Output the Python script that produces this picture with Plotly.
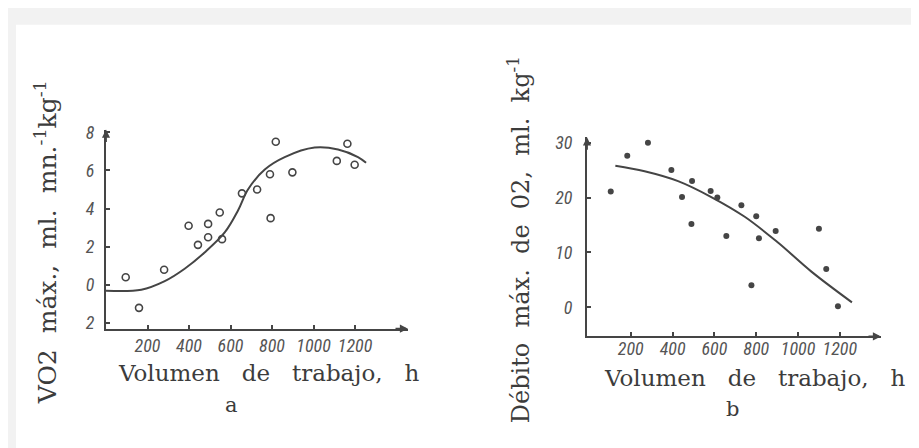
import plotly.graph_objects as go

W, H = 919, 448

# ---- Data: chart a (VO2 max vs training volume) ----
a_x = [95, 159, 280, 398, 443, 492, 492, 548, 559, 655, 728, 790, 818, 793, 898, 1112, 1163, 1198]
a_y = [0.4, -1.2, 0.8, 3.1, 2.1, 3.2, 2.5, 3.8, 2.4, 4.8, 5.0, 5.8, 7.5, 3.5, 5.9, 6.5, 7.4, 6.3]
a_curve_x = [0, 170, 283, 379, 475, 572, 636, 684, 765, 861, 1005, 1118, 1214, 1253]
a_curve_y = [-0.3, -0.25, 0.2, 0.85, 1.7, 2.75, 3.9, 5.0, 6.05, 6.7, 7.2, 7.1, 6.7, 6.4]

# ---- Data: chart b (max O2 debt vs training volume) ----
b_x = [104, 183, 282, 394, 493, 445, 490, 582, 614, 657, 729, 800, 813, 893, 777, 1100, 1135, 1191]
b_y = [21.1, 27.6, 30.0, 25.0, 23.0, 20.1, 15.2, 21.2, 20.0, 13.0, 18.6, 16.6, 12.6, 13.9, 4.0, 14.3, 7.0, 0.2]
b_curve_x = [126, 266, 426, 585, 745, 904, 1064, 1258]
b_curve_y = [25.8, 24.8, 23.0, 20.1, 16.5, 11.8, 6.5, 0.9]

x_ticks = [200, 400, 600, 800, 1000, 1200]
x_ticktext = ["200", "400", "600", "800", "1000", "1200"]
a_yticks = [-2, 0, 2, 4, 6, 8]
a_yticktext = ["2", "0", "2", "4", "6", "8"]
b_yticks = [0, 10, 20, 30]
b_yticktext = ["0", "10", "20", "30"]

INK = "#454545"
TXT = "#3c3c3c"
TICKFONT = dict(family="Liberation Sans Narrow, Roboto Condensed, Liberation Sans, sans-serif",
                size=18, color="#555555", style="italic")
SERIF = "DejaVu Serif, Liberation Serif, serif"
NB = "\u00a0"


def px_x(p):
    return p / W


def px_y(p):
    return (H - p) / H


fig = go.Figure()

# chart a
fig.add_trace(go.Scatter(x=a_curve_x, y=a_curve_y, mode="lines", line=dict(color=INK, width=2, shape="spline"),
                         xaxis="x", yaxis="y", showlegend=False, hoverinfo="skip"))
fig.add_trace(go.Scatter(x=a_x, y=a_y, mode="markers",
                         marker=dict(symbol="circle-open", size=7, color=INK, line=dict(width=1.6, color=INK)),
                         xaxis="x", yaxis="y", showlegend=False))
# chart b
fig.add_trace(go.Scatter(x=b_curve_x, y=b_curve_y, mode="lines", line=dict(color=INK, width=2, shape="spline"),
                         xaxis="x2", yaxis="y2", showlegend=False, hoverinfo="skip"))
fig.add_trace(go.Scatter(x=b_x, y=b_y, mode="markers",
                         marker=dict(symbol="circle", size=6, color=INK),
                         xaxis="x2", yaxis="y2", showlegend=False))

axis_common = dict(showgrid=False, zeroline=False, showline=True, linecolor=INK, linewidth=2,
                   ticks="inside", ticklen=4, tickwidth=1.5, tickcolor=INK, tickfont=TICKFONT,
                   tickangle=0)

fig.update_layout(
    width=W, height=H,
    margin=dict(l=0, r=0, t=0, b=0),
    paper_bgcolor="#f2f2f2",
    plot_bgcolor="rgba(0,0,0,0)",
    showlegend=False,
    xaxis=dict(domain=[px_x(98), px_x(400)], range=[0, 1455], anchor="y",
               tickvals=x_ticks, ticktext=x_ticktext, ticklabelstandoff=0, **axis_common),
    yaxis=dict(domain=[px_y(322), px_y(117)], range=[-2.29, 8.14], anchor="x",
               tickvals=a_yticks, ticktext=a_yticktext, ticklabelstandoff=6, **axis_common),
    xaxis2=dict(domain=[px_x(579), px_x(873)], range=[-9.6, 1397], anchor="y2",
                tickvals=x_ticks, ticktext=x_ticktext, ticklabelstandoff=-5, **axis_common),
    yaxis2=dict(domain=[px_y(330), px_y(125)], range=[-5.31, 30.97], anchor="x2",
                tickvals=b_yticks, ticktext=b_yticktext, ticklabelstandoff=9, **axis_common),
    shapes=[dict(type="rect", xref="paper", yref="paper", x0=px_x(8), x1=1, y0=0, y1=px_y(9),
                 fillcolor="white", line=dict(width=0), layer="below")],
)

annos = []
# arrowheads at axis ends
for (tx, ty, ax, ay) in [(400, 322, -14, 0), (98, 117, 0, 14), (873, 330, -14, 0), (579, 125, 0, 14)]:
    annos.append(dict(x=px_x(tx), y=px_y(ty), xref="paper", yref="paper", text="", showarrow=True,
                      ax=ax, ay=ay, arrowhead=2, arrowsize=0.9, arrowwidth=1.8, arrowcolor=INK))

gap = NB * 3
xtitle = "Volumen" + gap + "de" + gap + "trabajo," + gap + "h"
annos.append(dict(x=px_x(261), y=px_y(368), xref="paper", yref="paper", text=xtitle, showarrow=False,
                  font=dict(family=SERIF, size=23, color=TXT), xanchor="center", yanchor="middle"))
annos.append(dict(x=px_x(747), y=px_y(373), xref="paper", yref="paper", text=xtitle, showarrow=False,
                  font=dict(family=SERIF, size=23, color=TXT), xanchor="center", yanchor="middle"))
annos.append(dict(x=px_x(223), y=px_y(401), xref="paper", yref="paper", text="a", showarrow=False,
                  font=dict(family=SERIF, size=21, color=TXT), xanchor="center", yanchor="middle"))
annos.append(dict(x=px_x(724), y=px_y(405), xref="paper", yref="paper", text="b", showarrow=False,
                  font=dict(family=SERIF, size=21, color=TXT), xanchor="center", yanchor="middle"))

g2 = NB * 2
ytitle_a = "VO2" + g2 + "máx.," + g2 + "ml." + g2 + "mn.<sup>-1</sup>kg<sup>-1</sup>"
ytitle_b = "Débito" + g2 + "máx." + g2 + "de" + g2 + "02," + g2 + "ml." + g2 + "kg<sup>-1</sup>"
annos.append(dict(x=px_x(38), y=px_y(233), xref="paper", yref="paper", text=ytitle_a, showarrow=False,
                  textangle=-90, font=dict(family=SERIF, size=25, color=TXT), xanchor="center", yanchor="middle"))
annos.append(dict(x=px_x(511), y=px_y(231), xref="paper", yref="paper", text=ytitle_b, showarrow=False,
                  textangle=-90, font=dict(family=SERIF, size=24, color=TXT), xanchor="center", yanchor="middle"))

fig.update_layout(annotations=annos)

fig.write_html("out.html")
